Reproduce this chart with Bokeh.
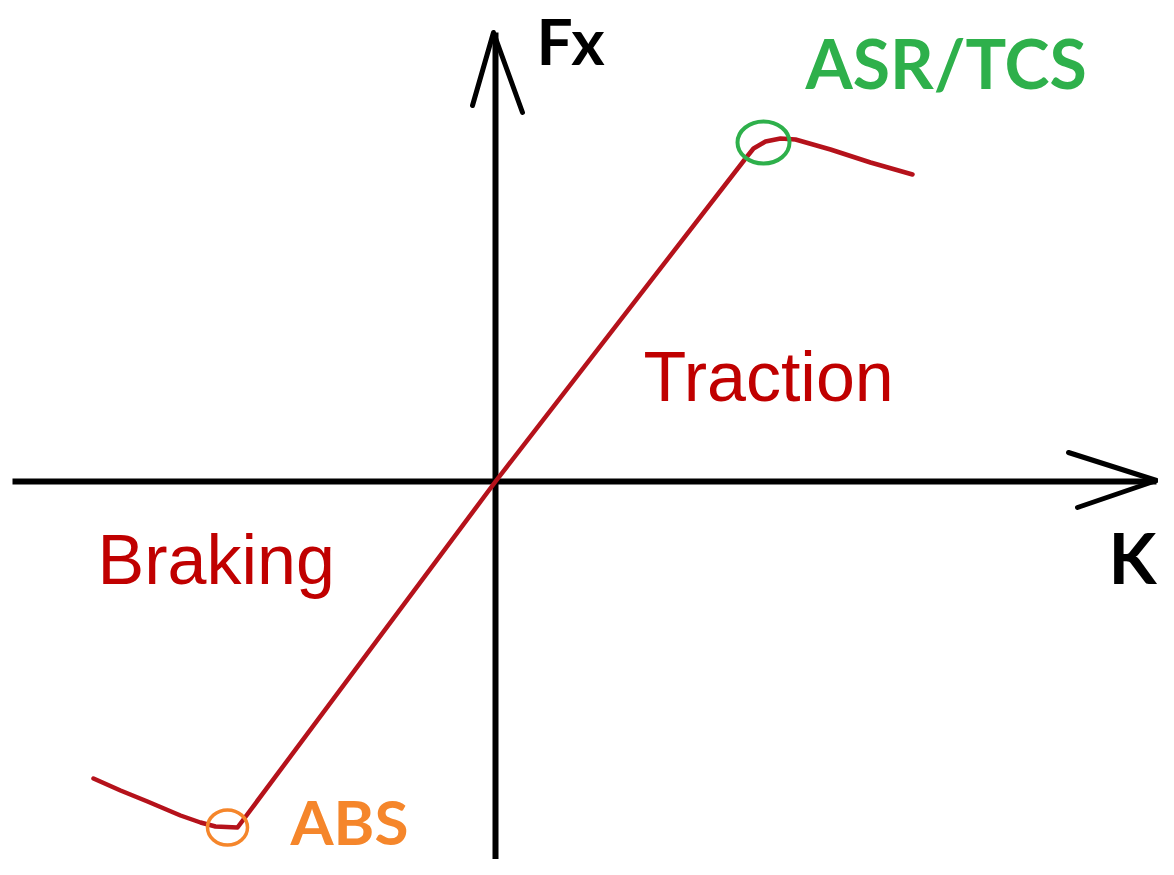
from bokeh.plotting import figure
from bokeh.models import Range1d
from bokeh.core.properties import value
from bokeh.embed import file_html
from bokeh.resources import INLINE

# Tyre force curve: longitudinal force Fx vs slip (arbitrary units)
slip = [-4.02, -3.75, -3.48, -3.15, -2.95, -2.80, -2.58, 0.0, 2.50, 2.58, 2.70, 2.85, 3.00, 3.35, 3.75, 4.17]
fx = [-2.97, -3.09, -3.20, -3.34, -3.41, -3.45, -3.46, 0.0, 3.23, 3.33, 3.40, 3.43, 3.42, 3.32, 3.19, 3.07]

# Axes (with arrow heads)
x_axis_x = [-4.83, 6.61]
x_axis_y = [0.0, 0.0]
x_arrow_x = [5.73, 6.61, 5.82]
x_arrow_y = [0.29, 0.01, -0.26]
y_axis_x = [0.0, 0.0]
y_axis_y = [-3.85, 4.49]
y_arrow_x = [-0.23, -0.02, 0.27]
y_arrow_y = [3.76, 4.49, 3.69]

# Marked operating points
asr_pt = (2.68, 3.39)
abs_pt = (-2.68, -3.46)

# Labels
labels_bold = ["Fx", "K", "ASR/TCS", "ABS"]
labels_bold_x = [0.41, 6.13, 3.10, -2.05]
labels_bold_y = [4.41, -0.75, 4.19, -3.39]
labels_bold_color = ["#000000", "#000000", "#2eb04b", "#f5862b"]
labels_bold_size = ["64px", "70px", "68px", "62px"]

labels_reg = ["Traction", "Braking"]
labels_reg_x = [1.48, -3.98]
labels_reg_y = [1.05, -0.78]

p = figure(width=1158, height=859, output_backend="svg", toolbar_location=None,
           x_range=Range1d(-4.95, 6.63), y_range=Range1d(-3.78, 4.81),
           x_axis_type=None, y_axis_type=None, min_border=0)
p.grid.visible = False
p.outline_line_color = None
p.background_fill_color = "white"
p.border_fill_color = "white"

# axes
p.line(x_axis_x, x_axis_y, line_color="black", line_width=6)
p.line(y_axis_x, y_axis_y, line_color="black", line_width=6)
p.line(x_arrow_x, x_arrow_y, line_color="black", line_width=5, line_cap="round", line_join="round")
p.line(y_arrow_x, y_arrow_y, line_color="black", line_width=5, line_cap="round", line_join="round")

# curve
p.line(slip, fx, line_color="#b5121b", line_width=4.5, line_cap="round", line_join="round")

# circles
p.ellipse(x=[asr_pt[0]], y=[asr_pt[1]], width=0.52, height=0.42, fill_color=None,
          line_color="#2eb04b", line_width=4)
p.ellipse(x=[abs_pt[0]], y=[abs_pt[1]], width=0.40, height=0.35, fill_color=None,
          line_color="#f5862b", line_width=3.5)

# text
for t, x, y, c, s in zip(labels_bold, labels_bold_x, labels_bold_y, labels_bold_color, labels_bold_size):
    p.text(x=[x], y=[y], text=[t], text_color=c, text_font=value("Lato"),
           text_font_style="bold", text_font_size=s, text_align="left",
           text_baseline="alphabetic")

p.text(x=labels_reg_x, y=labels_reg_y, text=labels_reg, text_color="#c00000",
       text_font=value("Liberation Sans"), text_font_size="70px",
       text_align="left", text_baseline="alphabetic")

open("out.html", "w").write(file_html(p, INLINE))
